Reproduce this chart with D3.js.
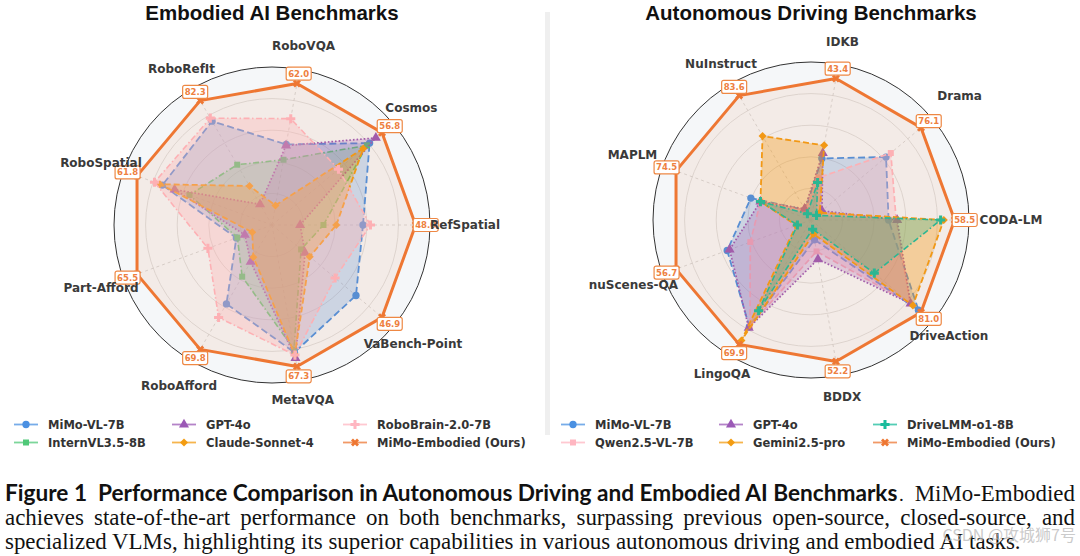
<!DOCTYPE html>
<html><head><meta charset="utf-8">
<script src="https://cdn.jsdelivr.net/npm/d3@7"></script>
<style>body{margin:0;background:#fff} svg{display:block}</style>
</head><body>
<svg id="c" width="1080" height="556"></svg>
<script>
// ---------------- DATA ----------------
const embCategories = ["RefSpatial","Cosmos","RoboVQA","RoboRefIt","RoboSpatial","Part-Afford","RoboAfford","MetaVQA","VaBench-Point"];
const embMiMoVL      = [30.4, 50.4, 35.3, 68.7, 50.2, 17.3, 44.3, 60.6, 35.8];
const embInternVL    = [17.2, 49.0, 28.6, 39.9, 37.8, 16.8, 29.0, 59.2, 12.4];
const embGPT4o       = [ 9.4, 53.6, 34.8, 13.7, 44.6, 13.2, 20.7, 63.3, 14.1];
const embClaude      = [21.5, 47.1,  8.6, 25.8, 51.3,  9.6, 18.1, 61.6, 16.1];
const embRoboBrain   = [32.9, 34.3, 46.6, 70.7, 53.8, 31.1, 51.9, 61.9, 26.9];
const embOurs        = [48.0, 56.8, 62.0, 82.3, 61.8, 65.5, 69.8, 67.3, 46.9];

const adCategories = ["CODA-LM","Drama","IDKB","NuInstruct","MAPLM","nuScenes-QA","LingoQA","BDDX","DriveAction"];
const adMiMoVL    = [31.6, 51.9, 18.9,  6.7, 33.2, 35.2, 60.0,  7.3, 79.1];
const adQwen      = [34.7, 55.2, 13.0,  6.7, 27.9, 25.5, 59.4, 11.6, 72.9];
const adGPT4o     = [35.1,  7.6, 20.5,  7.5, 27.9, 34.2, 60.6, 14.5, 73.3];
const adGemini    = [54.1,  6.1, 22.9, 56.4, 27.9,  6.2, 67.7,  5.2, 75.0];
const adDriveLMM  = [52.8,  3.8, 11.5,  4.2, 27.9,  5.7, 51.0,  3.4, 46.6];
const adOurs      = [58.5, 76.1, 43.4, 83.6, 74.5, 56.7, 69.9, 52.2, 81.0];

const ringTicks = [0.22, 0.44, 0.66, 0.88];

// ---------------- STYLES ----------------
const ST = {
  mimovl:   {color:"#4A90E2", dash:"7,3.5", w:1.8, marker:"circle", fo:0.25},
  intern:   {color:"#50C878", dash:"6,2.5,1.5,2.5", w:1.6, marker:"square", fo:0.25},
  gpt:      {color:"#9B59B6", dash:"1.6,2", w:1.7, marker:"triangle", fo:0.25},
  claude:   {color:"#F39C12", dash:"6,3", w:1.8, marker:"diamond", fo:0.35},
  robobrain:{color:"#FFB6C1", dash:"6,2.5,1.5,2.5", w:1.6, marker:"plus", fo:0.35},
  qwen:     {color:"#FFB6C1", dash:"6,3", w:1.7, marker:"square", fo:0.33},
  gemini:   {color:"#F39C12", dash:"6,3", w:1.8, marker:"diamond", fo:0.36},
  drivelmm: {color:"#1ABC9C", dash:"6,2.5,1.5,2.5", w:1.6, marker:"plus", fo:0.28},
  ours:     {color:"#EE7733", dash:null, w:3, marker:"x", fo:0.09}
};

const svg = d3.select("#c");
const FONT = "'DejaVu Sans', sans-serif";

function markerPath(type, size){
  const m = {circle:d3.symbolCircle, square:d3.symbolSquare, triangle:d3.symbolTriangle,
             diamond:d3.symbolSquare, plus:d3.symbolCross, x:d3.symbolCross}[type];
  return d3.symbol().type(m).size(size)();
}
function markerRot(type){ return (type==="diamond"||type==="x") ? 45 : 0; }
function markerSize(type){ return {circle:42, square:36, triangle:44, diamond:32, plus:46, x:40}[type]; }

function drawRadar(cfg){
  const n = cfg.categories.length;
  const g = svg.append("g").attr("transform", `translate(${cfg.cx},${cfg.cy})`);
  const r = d3.scaleLinear().domain([0, 1.1]).range([0, 158]);
  const maxes = cfg.categories.map((c,i) => d3.max(cfg.series, s => s.values[i]));
  const ang = i => Math.PI/2 - 2*Math.PI*i/n;
  const pt = (i, rr) => [rr*Math.sin(ang(i)), -rr*Math.cos(ang(i))];

  g.append("circle").attr("r", r(1.1)).attr("fill", "#f5f7f9");
  g.selectAll(".ring").data(ringTicks).join("circle")
    .attr("r", d => r(d)).attr("fill","none").attr("stroke","#d6d6d6").attr("stroke-width",0.8);
  g.selectAll(".spoke").data(cfg.categories).join("line")
    .attr("x1",0).attr("y1",0)
    .attr("x2",(d,i)=>pt(i, r(1.1))[0]).attr("y2",(d,i)=>pt(i, r(1.1))[1])
    .attr("stroke","#cdcdcd").attr("stroke-width",0.8).attr("stroke-dasharray","3,3");

  const line = d3.lineRadial().angle((d,i)=>ang(i)).radius(d=>r(d)).curve(d3.curveLinearClosed);

  cfg.series.forEach(s => {
    const norm = s.values.map((v,i) => v / maxes[i]);
    const st = s.style;
    g.append("path").attr("d", line(norm))
      .attr("fill", st.color).attr("fill-opacity", st.fo)
      .attr("stroke", st.color).attr("stroke-width", st.w)
      .attr("stroke-dasharray", st.dash).attr("stroke-linejoin","round");
    g.selectAll(null).data(norm).join("path")
      .attr("d", markerPath(st.marker, markerSize(st.marker)))
      .attr("transform", (d,i) => { const p = pt(i, r(d)); return `translate(${p[0]},${p[1]}) rotate(${markerRot(st.marker)})`; })
      .attr("fill", st.color);
  });

  g.append("circle").attr("r", r(1.1)).attr("fill","none").attr("stroke","#333").attr("stroke-width",1);

  // value labels for ours
  const ours = cfg.series.find(s => s.ours);
  const lab = g.selectAll(".vl").data(ours.values).join("g")
    .attr("transform",(d,i)=>{ const p = pt(i, r(1.07)); return `translate(${p[0]},${p[1]})`; });
  lab.append("rect").attr("x",-12.5).attr("y",-6.5).attr("width",25).attr("height",13).attr("rx",2)
    .attr("fill","#fff").attr("stroke","#EE8844").attr("stroke-width",1.2);
  lab.append("text").attr("text-anchor","middle").attr("dy","0.35em")
    .attr("font-family",FONT).attr("font-weight","bold").attr("font-size",8.5)
    .attr("fill","#EE8040").text(d => d3.format(".1f")(d));

  // category labels
  g.selectAll(".cl").data(cfg.categories).join("text")
    .attr("x",(d,i)=>pt(i, cfg.labelR[i])[0]).attr("y",(d,i)=>pt(i, cfg.labelR[i])[1])
    .attr("text-anchor","middle").attr("dy","0.36em")
    .attr("font-family",FONT).attr("font-weight","bold").attr("font-size",12)
    .attr("fill","#3a3a3a").text(d=>d);

  // title
  svg.append("text").attr("x", cfg.cx).attr("y", 20).attr("text-anchor","middle")
    .attr("font-family","'Liberation Sans', Arial, sans-serif").attr("font-weight","bold")
    .attr("font-size",20.5).attr("fill","#111").text(cfg.title);

  // legend (3 columns, column-major)
  cfg.series.forEach((s,k) => {
    const col = Math.floor(k/2), row = k%2;
    const x0 = cfg.legendX[col], y0 = [424.5, 442.5][row];
    const lg = svg.append("g").attr("transform",`translate(${x0},${y0})`);
    lg.append("line").attr("x1",0).attr("x2",24).attr("y1",0).attr("y2",0)
      .attr("stroke", s.style.color).attr("stroke-width",1.8).attr("stroke-opacity",0.75);
    lg.append("path").attr("d", markerPath(s.style.marker, markerSize(s.style.marker)))
      .attr("transform",`translate(12,0) rotate(${markerRot(s.style.marker)})`)
      .attr("fill", s.style.color);
    lg.append("text").attr("x",34).attr("dy","0.36em")
      .attr("font-family",FONT).attr("font-weight","bold").attr("font-size",11.5)
      .attr("fill","#333").text(s.name);
  });
}

// separator strip
svg.append("rect").attr("x",545).attr("y",12).attr("width",5).attr("height",423).attr("fill","#efefef");

drawRadar({
  title:"Embodied AI Benchmarks", cx:272, cy:225,
  categories: embCategories,
  labelR:[193,182,182,181,182,182,186,177,184],
  legendX:[14, 172, 343],
  series:[
    {name:"MiMo-VL-7B", values:embMiMoVL, style:ST.mimovl},
    {name:"InternVL3.5-8B", values:embInternVL, style:ST.intern},
    {name:"GPT-4o", values:embGPT4o, style:ST.gpt},
    {name:"Claude-Sonnet-4", values:embClaude, style:ST.claude},
    {name:"RoboBrain-2.0-7B", values:embRoboBrain, style:ST.robobrain},
    {name:"MiMo-Embodied (Ours)", values:embOurs, style:ST.ours, ours:true}
  ]
});
drawRadar({
  title:"Autonomous Driving Benchmarks", cx:811, cy:220,
  categories: adCategories,
  labelR:[200,194,181,180,190,189,178,179,180],
  legendX:[561, 719, 873],
  series:[
    {name:"MiMo-VL-7B", values:adMiMoVL, style:ST.mimovl},
    {name:"Qwen2.5-VL-7B", values:adQwen, style:ST.qwen},
    {name:"GPT-4o", values:adGPT4o, style:ST.gpt},
    {name:"Gemini2.5-pro", values:adGemini, style:ST.gemini},
    {name:"DriveLMM-o1-8B", values:adDriveLMM, style:ST.drivelmm},
    {name:"MiMo-Embodied (Ours)", values:adOurs, style:ST.ours, ours:true}
  ]
});

// ---------------- CAPTION ----------------
const SERIF = "'Liberation Serif', 'Times New Roman', serif";
const capBold = svg.append("text").attr("x",5).attr("y",501)
  .attr("font-family","Lato, 'Open Sans', sans-serif").attr("font-weight","bold").attr("font-size",20).attr("fill","#111")
  .text("Figure 1\u00a0\u00a0Performance Comparison in Autonomous Driving and Embodied AI Benchmarks");
const bl = capBold.node().getComputedTextLength();
capBold.attr("font-size", 20*893/bl);
svg.append("text").attr("x",899).attr("y",501).attr("font-family",SERIF).attr("font-size",19).attr("fill","#111").text(".");

const line3 = svg.append("text").attr("x",5).attr("y",549).attr("font-family",SERIF).attr("font-size",19).attr("fill","#111")
  .text("specialized VLMs, highlighting its superior capabilities in various autonomous driving and embodied AI tasks.");
const l3 = line3.node().getComputedTextLength();
const fs = 19*1016/l3;
line3.attr("font-size", fs);

const line2 = svg.append("text").attr("x",5).attr("y",525).attr("font-family",SERIF).attr("font-size",fs).attr("fill","#111")
  .text("achieves state-of-the-art performance on both benchmarks, surpassing previous open-source, closed-source, and");
const l2 = line2.node().getComputedTextLength();
const nsp = (line2.text().match(/ /g)||[]).length;
line2.attr("word-spacing", (1075 - 5 - l2)/nsp);

svg.append("text").attr("x",1075).attr("y",501).attr("text-anchor","end").attr("font-family",SERIF).attr("font-size",fs)
  .attr("fill","#111").text("MiMo-Embodied");

// watermark
svg.append("text").attr("x",1076).attr("y",541).attr("text-anchor","end")
  .attr("font-family","'Noto Sans CJK SC', 'Noto Sans', sans-serif").attr("font-size",16)
  .attr("fill","#bdbdbd").attr("fill-opacity",0.8).text("CSDN @攻城狮7号");
</script>
</body></html>
